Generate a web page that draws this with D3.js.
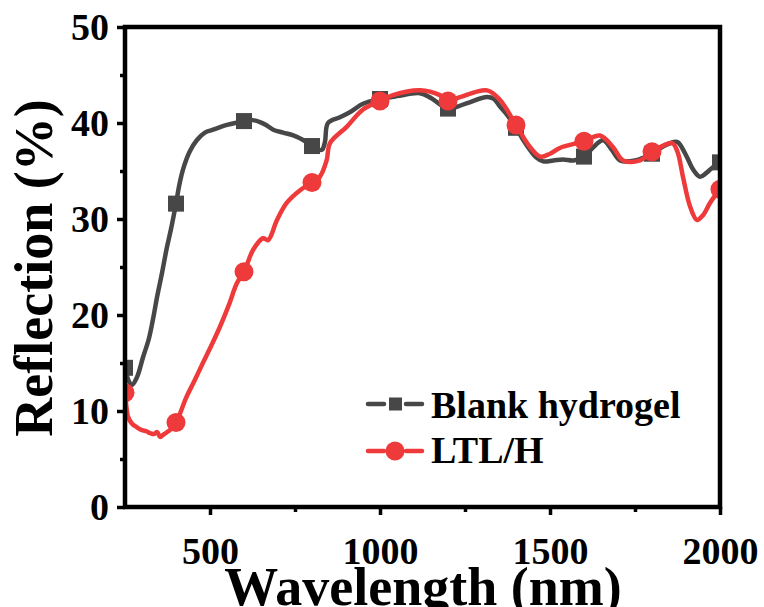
<!DOCTYPE html>
<html>
<head>
<meta charset="utf-8">
<script src="https://cdn.jsdelivr.net/npm/d3@7"></script>
<style>
  html, body { margin: 0; padding: 0; background: #fff; }
  svg text { font-family: "Liberation Serif", "Times New Roman", serif; font-weight: bold; fill: #000; }
</style>
</head>
<body>
<svg id="chart" width="764" height="607"></svg>
<script>
// ---- data ----
const blankWavelength = [250, 260, 270, 285, 303, 320, 332, 345, 359, 373, 385, 400, 410, 421, 440, 461, 485, 509, 550, 588, 600, 625, 647, 665, 686, 715, 745, 775, 800, 815, 829, 838, 847, 882, 915, 950, 1000, 1050, 1118, 1150, 1200, 1250, 1315, 1335, 1353, 1375, 1400, 1420, 1441, 1460, 1480, 1510, 1538, 1570, 1600, 1625, 1656, 1680, 1706, 1750, 1800, 1835, 1862, 1876, 1902, 1920, 1941, 1960, 1979, 2000];
const blankReflection = [14.5, 13.2, 12.7, 13.5, 15.6, 17.5, 19.5, 22.0, 24.4, 27.0, 28.9, 31.6, 33.6, 35.2, 37.0, 38.2, 39.0, 39.3, 39.8, 40.1, 40.2, 40.3, 40.1, 39.8, 39.3, 39.0, 38.7, 38.2, 37.6, 37.3, 37.2, 38.0, 40.0, 40.6, 41.2, 42.0, 42.5, 42.8, 43.1, 42.6, 41.5, 42.0, 42.7, 42.5, 41.7, 40.8, 39.5, 38.3, 37.2, 36.4, 36.0, 36.1, 36.2, 36.1, 36.5, 37.4, 38.2, 37.3, 36.1, 36.1, 36.8, 37.6, 38.0, 38.0, 36.5, 35.2, 34.4, 34.8, 35.4, 35.9];
const blankMarkers = [250, 400, 600, 800, 1000, 1200, 1400, 1600, 1800, 2000];

const ltlWavelength = [250, 255, 259, 270, 285, 300, 312, 324, 335, 345, 353, 365, 382, 400, 430, 455, 479, 505, 529, 555, 579, 600, 627, 656, 671, 697, 726, 765, 800, 823, 843, 853, 902, 950, 1000, 1038, 1118, 1176, 1200, 1235, 1315, 1353, 1400, 1441, 1471, 1500, 1529, 1600, 1647, 1685, 1715, 1765, 1800, 1859, 1875, 1891, 1912, 1932, 1950, 1971, 2000];
const ltlReflection = [11.9, 10.2, 9.4, 8.7, 8.3, 8.0, 7.9, 7.7, 7.6, 7.8, 7.3, 7.6, 8.0, 8.8, 11.4, 13.2, 15.0, 16.9, 18.75, 21.0, 23.3, 24.5, 26.8, 28.0, 27.8, 29.9, 31.7, 33.0, 33.8, 34.4, 36.1, 37.9, 39.6, 41.4, 42.3, 42.9, 43.4, 42.9, 42.3, 42.7, 43.4, 42.4, 39.8, 37.5, 36.5, 36.8, 37.4, 38.1, 38.7, 37.5, 36.1, 36.1, 37.0, 37.9, 37.0, 34.4, 31.3, 29.9, 30.4, 31.7, 33.1];
const ltlMarkers = [250, 400, 600, 800, 1000, 1200, 1400, 1600, 1800, 2000];

const seriesNames = ["Blank hydrogel", "LTL/H"];
const xTicks = [500, 1000, 1500, 2000];
const xMinorTicks = [750, 1250, 1750];
const yTicks = [0, 10, 20, 30, 40, 50];
const yMinorTicks = [5, 15, 25, 35, 45];

// ---- layout ----
const svg = d3.select("#chart");
const pLeft = 125, pRight = 720, pTop = 27, pBottom = 507;
const x = d3.scaleLinear().domain([250, 2000]).range([pLeft, pRight]);
const y = d3.scaleLinear().domain([0, 50]).range([pBottom, pTop]);

const grey = "#474747", red = "#ee3a3a";

svg.append("defs").append("clipPath").attr("id", "plotclip")
  .append("rect").attr("x", pLeft).attr("y", pTop).attr("width", pRight - pLeft).attr("height", pBottom - pTop);

const plot = svg.append("g").attr("clip-path", "url(#plotclip)");

function drawSeries(xs, ys, marks, color, shape) {
  const pts = xs.map((d, i) => [d, ys[i]]);
  const line = d3.line().x(d => x(d[0])).y(d => y(d[1])).curve(d3.curveCatmullRom.alpha(0.5));
  plot.append("path").datum(pts).attr("d", line)
    .attr("fill", "none").attr("stroke", color).attr("stroke-width", 4.5)
    .attr("stroke-linejoin", "round").attr("stroke-linecap", "round");
  const mpts = pts.filter(p => marks.includes(p[0]));
  if (shape === "square") {
    plot.selectAll(null).data(mpts).enter().append("rect")
      .attr("x", d => x(d[0]) - 8).attr("y", d => y(d[1]) - 8)
      .attr("width", 16).attr("height", 16).attr("fill", color);
  } else {
    plot.selectAll(null).data(mpts).enter().append("circle")
      .attr("cx", d => x(d[0])).attr("cy", d => y(d[1])).attr("r", 9.5).attr("fill", color);
  }
}
drawSeries(blankWavelength, blankReflection, blankMarkers, grey, "square");
drawSeries(ltlWavelength, ltlReflection, ltlMarkers, red, "circle");

// ---- axes ----
const xAxis = d3.axisBottom(x).tickValues(xTicks).tickSize(8).tickFormat(d3.format("d"));
const gx = svg.append("g").attr("transform", `translate(0,${pBottom})`).call(xAxis);
gx.select(".domain").remove();
gx.selectAll(".tick line").attr("stroke", "#000").attr("stroke-width", 3.5);
gx.selectAll(".tick text").attr("font-size", 38).attr("y", 57).attr("dy", "0")
  .style("font-family", "'Liberation Serif', serif").style("font-weight", "bold");
svg.append("g").attr("transform", `translate(0,${pBottom})`)
  .call(d3.axisBottom(x).tickValues(xMinorTicks).tickSize(5).tickFormat(""))
  .call(g => g.select(".domain").remove())
  .selectAll(".tick line").attr("stroke", "#000").attr("stroke-width", 3.5);

const yAxis = d3.axisLeft(y).tickValues(yTicks).tickSize(8);
const gy = svg.append("g").attr("transform", `translate(${pLeft},0)`).call(yAxis);
gy.select(".domain").remove();
gy.selectAll(".tick line").attr("stroke", "#000").attr("stroke-width", 3.5);
gy.selectAll(".tick text").attr("font-size", 38).attr("x", -16).attr("dy", "0.34em")
  .style("font-family", "'Liberation Serif', serif").style("font-weight", "bold");
svg.append("g").attr("transform", `translate(${pLeft},0)`)
  .call(d3.axisLeft(y).tickValues(yMinorTicks).tickSize(5).tickFormat(""))
  .call(g => g.select(".domain").remove())
  .selectAll(".tick line").attr("stroke", "#000").attr("stroke-width", 3.5);

// frame
svg.append("rect").attr("x", pLeft).attr("y", pTop).attr("width", pRight - pLeft).attr("height", pBottom - pTop)
  .attr("fill", "none").attr("stroke", "#000").attr("stroke-width", 4.5);

// titles
svg.append("text").attr("x", 423).attr("y", 605).attr("text-anchor", "middle")
  .attr("font-size", 54).text("Wavelength (nm)");
svg.append("text").attr("transform", "translate(52,268) rotate(-90)").attr("text-anchor", "middle")
  .attr("font-size", 54).text("Reflection (%)");

// legend
const legend = [
  { name: seriesNames[0], color: grey, shape: "square", cy: 404, base: 418 },
  { name: seriesNames[1], color: red, shape: "circle", cy: 451, base: 463 }
];
legend.forEach(l => {
  svg.append("line").attr("x1", 368).attr("x2", 384).attr("y1", l.cy).attr("y2", l.cy)
    .attr("stroke", l.color).attr("stroke-width", 4.5).attr("stroke-linecap", "round");
  svg.append("line").attr("x1", 406).attr("x2", 422).attr("y1", l.cy).attr("y2", l.cy)
    .attr("stroke", l.color).attr("stroke-width", 4.5).attr("stroke-linecap", "round");
  if (l.shape === "square") {
    svg.append("rect").attr("x", 389).attr("y", l.cy - 6.5).attr("width", 13).attr("height", 13).attr("fill", l.color);
  } else {
    svg.append("circle").attr("cx", 395).attr("cy", l.cy).attr("r", 9.5).attr("fill", l.color);
  }
  svg.append("text").attr("x", 431).attr("y", l.base).attr("font-size", 38).text(l.name);
});
</script>
</body>
</html>
